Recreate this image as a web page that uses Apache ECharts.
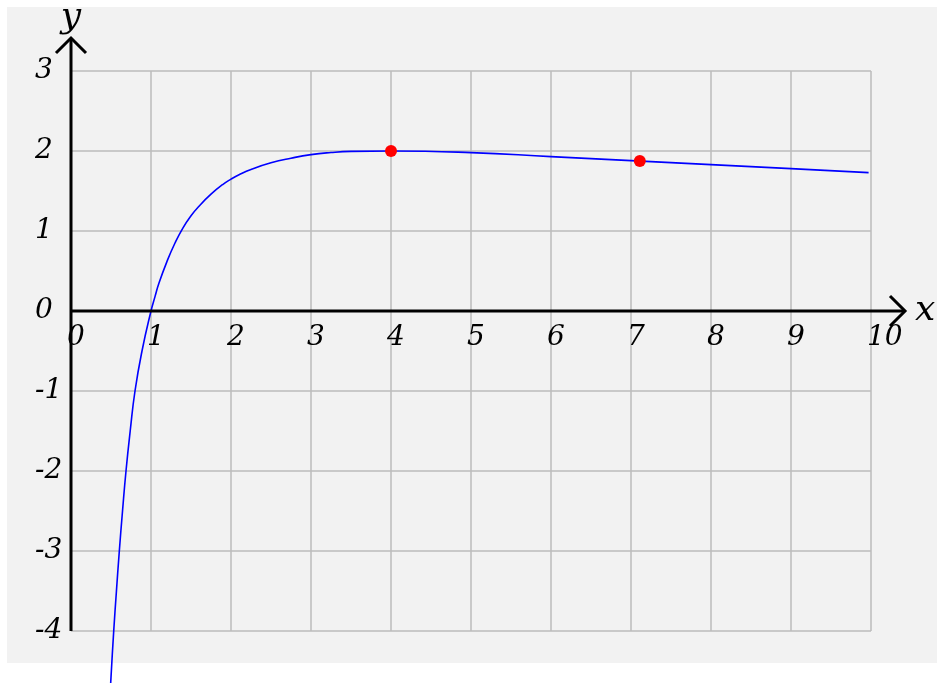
<!DOCTYPE html>
<html>
<head>
<meta charset="utf-8">
<script src="https://cdn.jsdelivr.net/npm/echarts@6/dist/echarts.min.js"></script>
<style>
  html, body { margin: 0; padding: 0; background: #fff; }
  #main { width: 937px; height: 683px; }
</style>
</head>
<body>
<div id="main"></div>
<script>
// curve
const curveX = [0.49, 0.5, 0.534, 0.568, 0.604, 0.644, 0.6875, 0.74, 0.8, 0.8875, 1, 1.05, 1.1, 1.2, 1.3, 1.4, 1.5, 1.6, 1.75, 1.9, 2, 2.1, 2.25, 2.5, 2.75, 3, 3.25, 3.5, 4, 5, 6, 7, 8, 9, 9.97];
const curveY = [-4.78, -4.58, -4.0, -3.5, -3.0, -2.5, -2.0, -1.5, -1.0, -0.5, 0, 0.18, 0.35, 0.62, 0.85, 1.04, 1.19, 1.31, 1.46, 1.584, 1.648, 1.703, 1.77, 1.852, 1.91, 1.955, 1.981, 1.995, 2.0, 1.98, 1.93, 1.88, 1.83, 1.78, 1.73];
// red dots
const dotX = [4, 7.11];
const dotY = [2, 1.875];

const labelFont = {
  fontFamily: "DejaVu Serif",
  fontStyle: "italic",
  fontSize: 28,
  color: "#000",
};

const chart = echarts.init(document.getElementById("main"));
const option = {
  backgroundColor: "#fff",
  animation: false,
  grid: {
    left: 71,
    top: 71,
    width: 800,
    height: 560,
    containLabel: false,
    outerBoundsMode: "none",
  },
  xAxis: {
    type: "value",
    min: 0,
    max: 10,
    interval: 1,
    offset: -320, // labels sit on the y = 0 line
    axisLine: { show: false, onZero: false },
    axisTick: { show: false },
    axisLabel: Object.assign({ align: "left", margin: 13, padding: [0, 0, 0, -4] }, labelFont),
    splitLine: { show: true, lineStyle: { color: "#bbbbbb", width: 1.5 } },
    name: "x",
    nameLocation: "end",
    nameGap: 44,
    nameTextStyle: Object.assign({}, labelFont, { fontSize: 36, align: "left", verticalAlign: "middle", padding: [6, 0, 0, 0] }),
  },
  yAxis: {
    type: "value",
    min: -4,
    max: 3,
    interval: 1,
    axisLine: { show: false },
    axisTick: { show: false },
    axisLabel: Object.assign({ align: "left", margin: 36, verticalAlign: "middle", padding: [0, 0, 20, 0] }, labelFont),
    splitLine: { show: true, lineStyle: { color: "#bbbbbb", width: 1.5 } },
    name: "y",
    nameLocation: "end",
    nameGap: 35,
    nameTextStyle: Object.assign({}, labelFont, { fontSize: 36, align: "center" }),
  },
  series: [
    {
      type: "line",
      data: curveX.map((x, i) => [x, curveY[i]]),
      smooth: 0.5,
      showSymbol: false,
      clip: false,
      lineStyle: { color: "#0000ff", width: 1.6 },
      z: 3,
    },
    {
      type: "scatter",
      data: dotX.map((x, i) => [x, dotY[i]]),
      symbolSize: 12,
      itemStyle: { color: "#ff0000", opacity: 1 },
      z: 5,
    },
  ],
};
chart.setOption(option);

// panel background and the two axes with open arrow heads
const o = chart.convertToPixel({ gridIndex: 0 }, [0, 0]);
const bl = chart.convertToPixel({ gridIndex: 0 }, [0, -4]);
const tr = chart.convertToPixel({ gridIndex: 0 }, [10, 3]);
const xTip = tr[0] + 34;
const yTip = tr[1] - 33;
const ah = 15;
const axisStyle = { stroke: "#000", lineWidth: 3, fill: null };
chart.setOption({
  graphic: [
    { type: "rect", shape: { x: 7, y: 7, width: 930, height: 656 }, style: { fill: "#f2f2f2" }, z: -10, silent: true },
    { type: "line", shape: { x1: o[0], y1: o[1], x2: xTip, y2: o[1] }, style: axisStyle, z: 10 },
    { type: "polyline", shape: { points: [[xTip - ah, o[1] - ah], [xTip, o[1]], [xTip - ah, o[1] + ah]] }, style: axisStyle, z: 10 },
    { type: "line", shape: { x1: o[0], y1: bl[1], x2: o[0], y2: yTip }, style: axisStyle, z: 10 },
    { type: "polyline", shape: { points: [[o[0] - ah, yTip + ah], [o[0], yTip], [o[0] + ah, yTip + ah]] }, style: axisStyle, z: 10 },
  ],
});
</script>
</body>
</html>
